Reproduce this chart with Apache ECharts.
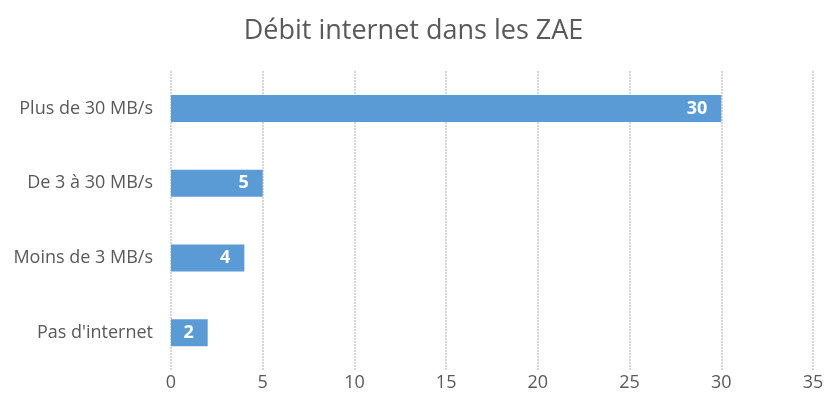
<!DOCTYPE html>
<html>
<head>
<meta charset="utf-8">
<script src="https://cdn.jsdelivr.net/npm/echarts@6/dist/echarts.min.js"></script>
<style>
  html, body { margin: 0; padding: 0; background: #fff; }
  #chart { width: 827px; height: 404px; }
</style>
</head>
<body>
<div id="chart"></div>
<script>
var categories = ["Pas d'internet", "Moins de 3 MB/s", "De 3 à 30 MB/s", "Plus de 30 MB/s"];
var values = [2, 4, 5, 30];
var xTicks = [0, 5, 10, 15, 20, 25, 30, 35];

var myChart = echarts.init(document.getElementById('chart'));

var option = {
    backgroundColor: '#fff',
    textStyle: { fontFamily: 'Open Sans' },
    title: {
        text: 'Débit internet dans les ZAE',
        left: 'center',
        top: 13,
        textStyle: { color: '#595959', fontSize: 27, fontWeight: 'normal', fontFamily: 'Open Sans' }
    },
    grid: { left: 171, right: 14, top: 71, bottom: 34 },
    xAxis: {
        type: 'value',
        min: xTicks[0],
        max: xTicks[xTicks.length - 1],
        interval: 5,
        axisLine: { show: false },
        axisTick: { show: false },
        axisLabel: { color: '#595959', fontSize: 18, margin: 4 },
        splitLine: { show: true, lineStyle: { color: '#c9c9c9', width: 1.5, type: [2, 1] } }
    },
    yAxis: {
        type: 'category',
        data: categories,
        axisLine: { show: false },
        axisTick: { show: false },
        axisLabel: { color: '#595959', fontSize: 18, margin: 18 }
    },
    series: [{
        type: 'bar',
        data: values,
        barWidth: 27,
        itemStyle: { color: '#5b9bd5' },
        label: {
            show: true,
            position: 'insideRight',
            distance: 14,
            color: '#fff',
            fontWeight: 'bold',
            fontSize: 18
        }
    }]
};
myChart.setOption(option);
</script>
</body>
</html>
